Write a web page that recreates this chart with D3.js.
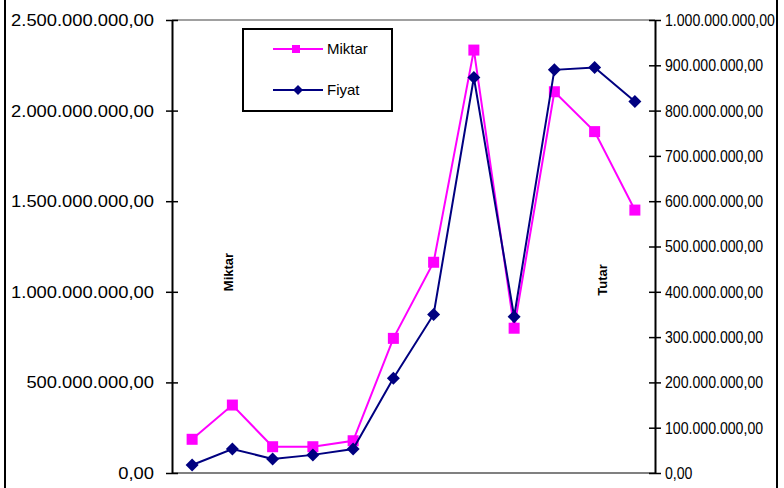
<!DOCTYPE html>
<html>
<head>
<meta charset="utf-8">
<script src="https://cdn.jsdelivr.net/npm/d3@7"></script>
<style>
  html, body { margin: 0; padding: 0; background: #fff; }
  svg { display: block; font-family: "Liberation Sans", Arial, sans-serif; }
</style>
</head>
<body>
<svg id="chart" width="784" height="488"></svg>
<script>
// ---- data ----
const categories = ["1","2","3","4","5","6","7","8","9","10","11","12"];
const miktar = [186e6, 375e6, 145e6, 145e6, 178e6, 743e6, 1163e6, 2334e6, 799e6, 2104e6, 1884e6, 1451e6];
const fiyat  = [17.7e6, 53e6, 31e6, 40e6, 53e6, 209e6, 350e6, 873e6, 345e6, 890e6, 895e6, 820e6];
const leftTicks  = [0, 5e8, 1e9, 1.5e9, 2e9, 2.5e9];
const rightTicks = [0, 1e8, 2e8, 3e8, 4e8, 5e8, 6e8, 7e8, 8e8, 9e8, 1e9];
const seriesNames = ["Miktar", "Fiyat"];
const axisTitles = ["Miktar", "Tutar"];

const svg = d3.select("#chart");
const plot = { left: 172, right: 655, top: 20, bottom: 473 };

const tr = d3.formatLocale({ decimal: ",", thousands: ".", grouping: [3], currency: ["", ""] });
const fmt = tr.format(",.2f");

const x = d3.scalePoint().domain(categories).range([plot.left, plot.right]).padding(0.5);
const yL = d3.scaleLinear().domain([0, 2.5e9]).range([plot.bottom, plot.top]);
const yR = d3.scaleLinear().domain([0, 1e9]).range([plot.bottom, plot.top]);

// outer frame lines
svg.append("line").attr("x1", 5).attr("x2", 5).attr("y1", 0).attr("y2", 488)
  .attr("stroke", "#000").attr("stroke-width", 2);
svg.append("line").attr("x1", 777).attr("x2", 777).attr("y1", 0).attr("y2", 488)
  .attr("stroke", "#000").attr("stroke-width", 2);

// plot top and bottom gray lines
svg.append("line").attr("x1", plot.left).attr("x2", plot.right).attr("y1", plot.top).attr("y2", plot.top)
  .attr("stroke", "#808080").attr("stroke-width", 1.5);
svg.append("line").attr("x1", plot.left).attr("x2", plot.right).attr("y1", plot.bottom).attr("y2", plot.bottom)
  .attr("stroke", "#808080").attr("stroke-width", 2);

// left axis
const gL = svg.append("g").attr("transform", `translate(${plot.left},0)`)
  .call(d3.axisLeft(yL).tickValues(leftTicks).tickFormat(fmt).tickSize(6).tickSizeOuter(0));
gL.select(".domain").attr("stroke", "#000").attr("stroke-width", 2);
gL.selectAll(".tick line").attr("x1", 6).attr("x2", -6).attr("stroke", "#000").attr("stroke-width", 1.5);
gL.selectAll(".tick text").attr("x", -18).attr("font-size", 17).attr("fill", "#000")
  .attr("font-family", "Liberation Sans, Arial, sans-serif")
  .each(function () {
    const w = this.getComputedTextLength();
    d3.select(this).attr("textLength", w * 1.08).attr("lengthAdjust", "spacingAndGlyphs");
  });

// right axis
const gR = svg.append("g").attr("transform", `translate(${plot.right},0)`)
  .call(d3.axisRight(yR).tickValues(rightTicks).tickFormat(fmt).tickSize(6).tickSizeOuter(0));
gR.select(".domain").attr("stroke", "#000").attr("stroke-width", 2);
gR.selectAll(".tick line").attr("x1", -6).attr("x2", 6).attr("stroke", "#000").attr("stroke-width", 1.5);
gR.selectAll(".tick text").attr("x", 10).attr("font-size", 17).attr("fill", "#000")
  .attr("font-family", "Liberation Sans, Arial, sans-serif")
  .each(function () {
    const w = this.getComputedTextLength();
    d3.select(this).attr("textLength", w * 0.83).attr("lengthAdjust", "spacingAndGlyphs");
  });

// lines
const lineL = d3.line().x((d, i) => x(categories[i])).y(d => yL(d));
const lineR = d3.line().x((d, i) => x(categories[i])).y(d => yR(d));
const pink = "#FF00FF", navy = "#000080";

svg.append("path").datum(miktar).attr("d", lineL).attr("fill", "none")
  .attr("stroke", pink).attr("stroke-width", 2);
svg.selectAll("rect.mk").data(miktar).enter().append("rect").attr("class", "mk")
  .attr("x", (d, i) => x(categories[i]) - 5.5).attr("y", d => yL(d) - 5.5)
  .attr("width", 11).attr("height", 11).attr("fill", pink);

const diamond = s => `M0,${-s}L${s},0L0,${s}L${-s},0Z`;
svg.append("path").datum(fiyat).attr("d", lineR).attr("fill", "none")
  .attr("stroke", navy).attr("stroke-width", 2);
svg.selectAll("path.fy").data(fiyat).enter().append("path").attr("class", "fy")
  .attr("transform", (d, i) => `translate(${x(categories[i])},${yR(d)})`)
  .attr("d", diamond(6.5)).attr("fill", navy);

// axis titles
svg.append("text").attr("transform", "translate(233,272) rotate(-90)")
  .attr("text-anchor", "middle").attr("font-size", 13).attr("font-weight", "bold")
  .text(axisTitles[0]);
svg.append("text").attr("transform", "translate(607,280) rotate(-90)")
  .attr("text-anchor", "middle").attr("font-size", 13).attr("font-weight", "bold")
  .text(axisTitles[1]);

// legend
const lg = svg.append("g");
lg.append("rect").attr("x", 243).attr("y", 29).attr("width", 149).attr("height", 82)
  .attr("fill", "#fff").attr("stroke", "#000").attr("stroke-width", 2);
const legendY = [49, 90];
seriesNames.forEach((name, i) => {
  const col = i === 0 ? pink : navy;
  lg.append("line").attr("x1", 273).attr("x2", 323).attr("y1", legendY[i]).attr("y2", legendY[i])
    .attr("stroke", col).attr("stroke-width", 2);
  if (i === 0) {
    lg.append("rect").attr("x", 292).attr("y", legendY[i] - 4).attr("width", 8).attr("height", 8).attr("fill", col);
  } else {
    lg.append("path").attr("transform", `translate(298,${legendY[i]})`).attr("d", diamond(5)).attr("fill", col);
  }
  lg.append("text").attr("x", 327).attr("y", legendY[i]).attr("dy", "0.35em")
    .attr("font-size", 15).attr("fill", "#000").text(name);
});
</script>
</body>
</html>
